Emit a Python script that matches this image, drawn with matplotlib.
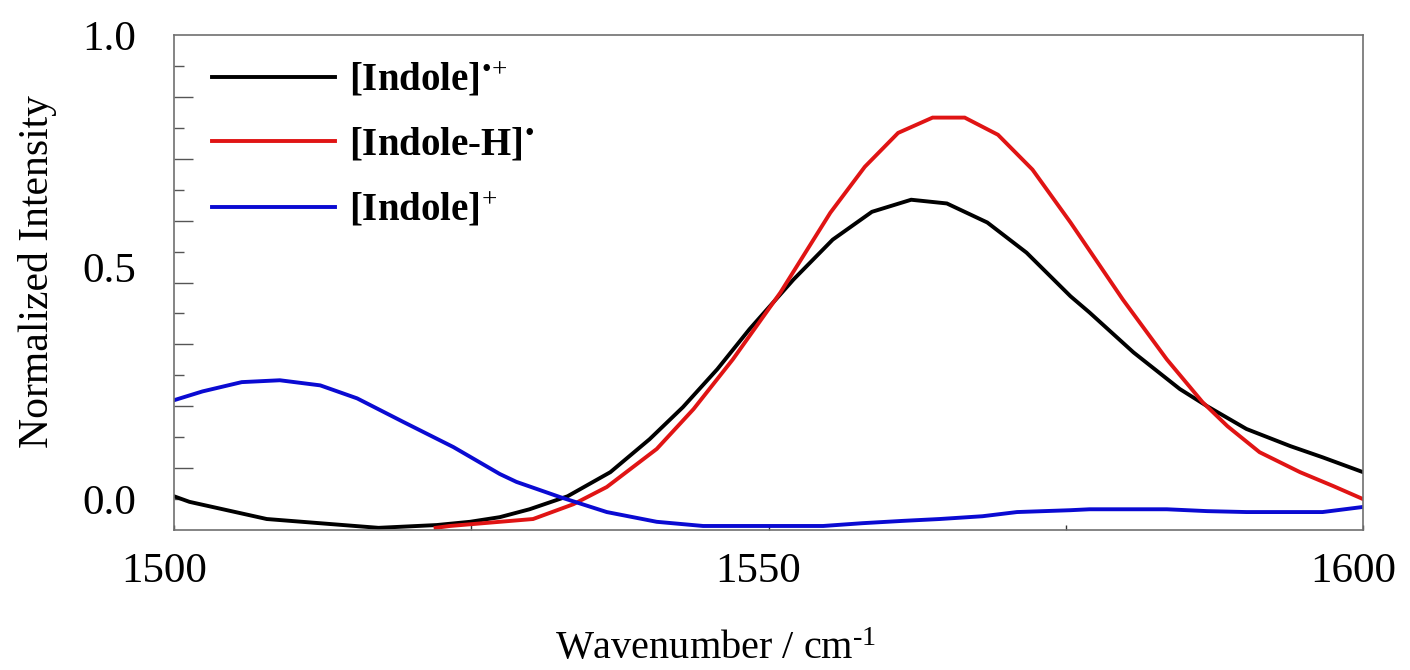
import matplotlib
matplotlib.use("Agg")
import matplotlib.pyplot as plt
import matplotlib.transforms as mtransforms
import numpy as np

plt.rcParams['font.family'] = ['Liberation Serif', 'DejaVu Serif']
plt.rcParams['mathtext.fontset'] = 'custom'
plt.rcParams['mathtext.rm'] = 'Liberation Serif'
plt.rcParams['mathtext.it'] = 'Liberation Serif:italic'
plt.rcParams['mathtext.bf'] = 'Liberation Serif:bold'

# ---- data ----
wn_radical = [1500.0, 1501.3, 1507.8, 1517.2, 1522.1, 1524.9, 1527.4, 1529.9, 1533.1,
              1536.7, 1540.0, 1542.8, 1545.7, 1548.4, 1552.1, 1555.4, 1558.7, 1562.0,
              1565.0, 1568.4, 1571.7, 1575.4, 1577.0, 1580.7, 1584.6, 1586.9, 1590.2,
              1593.9, 1596.6, 1600.0]
int_radical = [0.006, -0.006, -0.043, -0.062, -0.056, -0.049, -0.039, -0.022, 0.006,
               0.058, 0.129, 0.198, 0.280, 0.366, 0.473, 0.559, 0.619, 0.645,
               0.637, 0.596, 0.531, 0.437, 0.402, 0.316, 0.237, 0.200, 0.151,
               0.114, 0.090, 0.058]

wn_indoleH = [1522.0, 1523.2, 1530.2, 1533.6, 1536.4, 1540.6, 1543.7, 1547.0, 1551.0,
              1555.2, 1558.1, 1560.9, 1563.8, 1566.5, 1569.3, 1572.2, 1575.4, 1579.8,
              1583.5, 1586.5, 1588.6, 1591.3, 1594.7, 1597.5, 1600.0]
int_indoleH = [-0.062, -0.058, -0.043, -0.011, 0.026, 0.108, 0.194, 0.301, 0.445,
               0.617, 0.716, 0.789, 0.822, 0.822, 0.785, 0.710, 0.596, 0.430,
               0.301, 0.209, 0.157, 0.101, 0.058, 0.028, 0.000]

wn_cation = [1500.0, 1502.4, 1505.7, 1508.9, 1512.3, 1515.4, 1519.3, 1523.5, 1527.4,
             1528.8, 1532.5, 1536.4, 1540.6, 1544.5, 1551.0, 1554.6, 1557.9, 1561.3,
             1564.4, 1568.0, 1570.9, 1575.4, 1577.0, 1583.5, 1586.9, 1590.2, 1596.6,
             1600.0]
int_cation = [0.213, 0.232, 0.252, 0.256, 0.245, 0.217, 0.166, 0.112, 0.054,
              0.037, 0.004, -0.028, -0.049, -0.058, -0.058, -0.058, -0.052, -0.047,
              -0.043, -0.037, -0.028, -0.024, -0.022, -0.022, -0.026, -0.028, -0.028,
              -0.017]

labels = ['[Indole]$^{\u2022\\!+}$', '[Indole-H]$^{\u2022}$', '[Indole]$^{+}$']
colors = ['#000000', '#e01414', '#0a0ad2']

x_ticklabels = ['1500', '', '1550', '', '1600']
y_ticklabels = ['0.0', '0.5', '1.0']

# ---- figure ----
W, H = 1410, 670
fig = plt.figure(figsize=(W / 100, H / 100), dpi=100)
L, R, T, B = 174, 1363, 35, 530
ax = fig.add_axes([L / W, 1 - B / H, (R - L) / W, (B - T) / H])

for xs, ys, c, lab in zip([wn_radical, wn_indoleH, wn_cation],
                          [int_radical, int_indoleH, int_cation], colors, labels):
    ax.plot(xs, ys, color=c, lw=2.8, label=lab, solid_joinstyle='miter')

ax.set_xlim(1500, 1600)
ax.set_ylim(-1 / 15, 1.0)

spine_col = '#707070'
for s in ax.spines.values():
    s.set_color(spine_col)
    s.set_linewidth(1.2)

# x ticks
ax.set_xticks([1500, 1525, 1550, 1575, 1600])
ax.set_xticklabels(x_ticklabels)
ax.tick_params(axis='x', direction='in', length=3.6, width=1.0, color='#333333',
               labelsize=31, pad=16)
offset = mtransforms.ScaledTranslation(-10 / 100, 0, fig.dpi_scale_trans)
for lbl in ax.get_xticklabels():
    lbl.set_transform(lbl.get_transform() + offset)

# y ticks: long (major) and short (minor), no labels
long_pos = [1 - 2 * k / 15 for k in range(1, 8)]
short_pos = [1 - (2 * k - 1) / 15 for k in range(1, 9)]
ax.set_yticks(long_pos)
ax.set_yticklabels([])
ax.set_yticks(short_pos, minor=True)
ax.tick_params(axis='y', which='major', direction='in', length=13.7, width=1.0,
               color='#555555')
ax.tick_params(axis='y', which='minor', direction='in', length=7.2, width=1.0,
               color='#555555')

# y labels on a secondary axis
sec = ax.secondary_yaxis('left')
sec.set_yticks([0.0, 0.5, 1.0])
sec.set_yticklabels(y_ticklabels)
sec.tick_params(axis='y', length=0, labelsize=31, pad=27)
sec.spines['left'].set_visible(False)

ax.set_xlabel(r'Wavenumber / cm$^{\text{-1}}$', fontsize=29)
ax.xaxis.set_label_coords(0.456, -0.205)
ax.set_ylabel('Normalized Intensity', fontsize=30)
ax.yaxis.set_label_coords(-0.098, 0.523)

leg = ax.legend(loc='upper left', bbox_to_anchor=(0.032, 0.947), frameon=False,
                prop={'weight': 'bold', 'size': 28}, handlelength=3.16,
                handletextpad=0.36, borderpad=0, borderaxespad=0, labelspacing=0.7)
for h in leg.get_lines():
    h.set_linewidth(2.8)

fig.savefig('out.png', dpi=100)
